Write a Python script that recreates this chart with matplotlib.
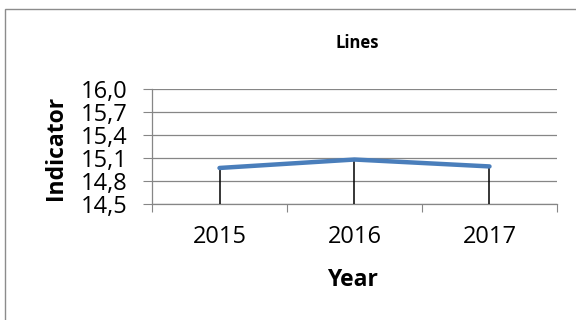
import matplotlib.pyplot as plt
from matplotlib.patches import Rectangle

years = ['2015', '2016', '2017']
indicator = [14.97, 15.08, 14.99]
y_ticks = [14.5, 14.8, 15.1, 15.4, 15.7, 16.0]

grey = '#868686'
blue = '#4A7EBB'

plt.rcParams['font.family'] = ['Open Sans', 'DejaVu Sans']

fig = plt.figure(figsize=(5.76, 3.2), dpi=100)
ax = fig.add_axes([0.2639, 0.3625, 0.7031, 0.3594])

# chart frame, right and bottom edges fall outside the canvas
fig.patches.append(Rectangle((5 / 576, -0.05), 1.2, 1 - 9 / 320 + 0.05,
                             transform=fig.transFigure, fill=False,
                             edgecolor='#8c8c8c', linewidth=1.0, zorder=0))

x = list(range(len(years)))
ax.vlines(x, y_ticks[0], indicator, colors='black', linewidth=1.1, zorder=3)
ax.plot(x, indicator, color=blue, linewidth=3.2, solid_capstyle='round', zorder=4)

ax.set_xlim(-0.5, len(years) - 0.5)
ax.set_ylim(y_ticks[0], y_ticks[-1])

# category boundaries carry the ticks, centres carry the labels
ax.set_xticks([i - 0.5 for i in range(len(years) + 1)])
ax.set_xticklabels([])
ax.set_xticks(x, minor=True)
ax.set_xticklabels(years, minor=True, fontsize=17)
ax.tick_params(axis='x', which='major', length=6, width=0.8, color=grey)
ax.tick_params(axis='x', which='minor', length=0, pad=15)

ax.set_yticks(y_ticks)
ax.set_yticklabels([f'{v:.1f}'.replace('.', ',') for v in y_ticks], fontsize=17)
ax.tick_params(axis='y', length=6.5, width=0.8, color=grey, pad=11)

ax.grid(axis='y', color=grey, linewidth=0.9)
ax.set_axisbelow(True)
for side in ['top', 'right']:
    ax.spines[side].set_visible(False)
for side in ['left', 'bottom']:
    ax.spines[side].set_color(grey)
    ax.spines[side].set_linewidth(0.9)

ax.set_ylabel('Indicator', fontsize=16.5, fontweight='bold')
ax.yaxis.set_label_coords(-0.207, 0.49)
ax.set_xlabel('Year', fontsize=16.5, fontweight='bold', va='center')
ax.xaxis.set_label_coords(0.494, -0.661)

fig.text(357 / 576, 1 - 43 / 320, 'Lines', fontsize=12, fontweight='bold',
         ha='center', va='center')

fig.savefig('out.png', dpi=100)
